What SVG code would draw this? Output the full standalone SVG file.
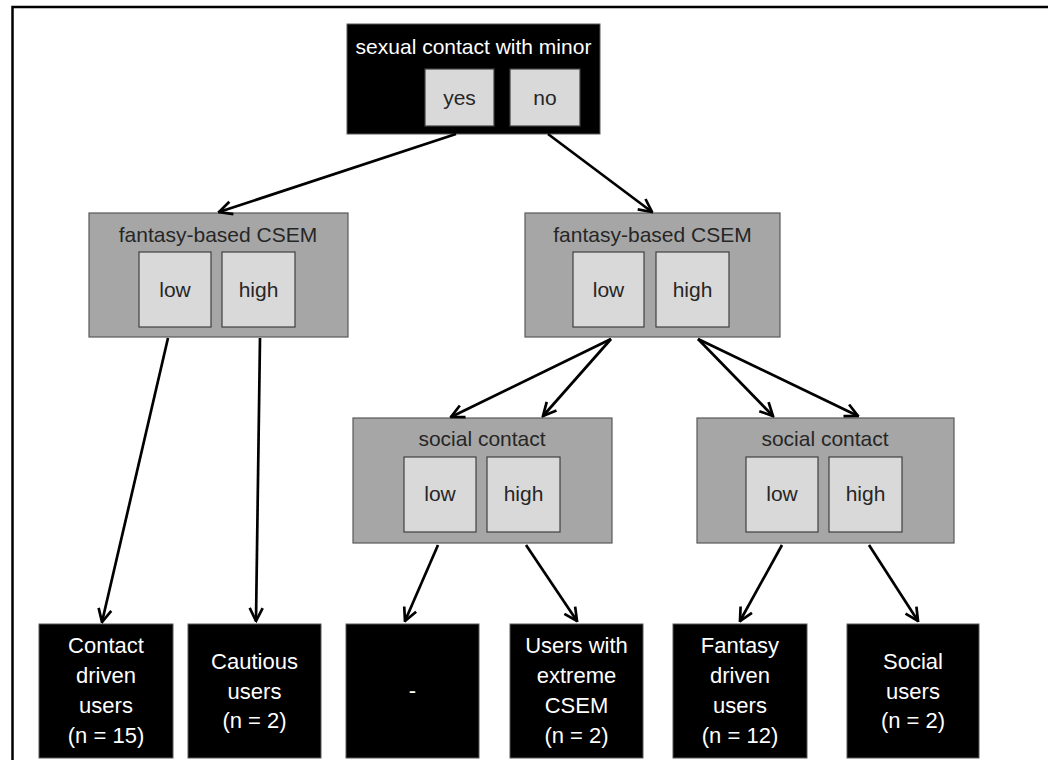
<svg xmlns="http://www.w3.org/2000/svg" width="1048" height="760" viewBox="0 0 1048 760">
  <style>
    .dark { fill: #000000; stroke: #595959; stroke-width: 1; }
    .grey { fill: #a6a6a6; stroke: #595959; stroke-width: 1.2; }
    .opt { fill: #d9d9d9; stroke: #404040; stroke-width: 1.2; }
    text { font-family: "Liberation Sans", Arial, sans-serif; text-anchor: middle; }
    .t-dark { fill: #ffffff; font-size: 21px; }
    .t-grey { fill: #262626; font-size: 21px; }
    .t-opt { fill: #262626; font-size: 21px; }
    .t-leaf { fill: #ffffff; font-size: 22px; }
    .conn { stroke: #000000; stroke-width: 2.7; fill: none; marker-end: url(#arrow); }
  </style>
  <defs>
    <marker id="arrow" viewBox="0 0 16 16" refX="14.5" refY="8" markerWidth="16" markerHeight="16" markerUnits="userSpaceOnUse" orient="auto">
      <path d="M1.5,1.5 L14.5,8 L1.5,14.5" fill="none" stroke="#000000" stroke-width="2.7"/>
    </marker>
  </defs>

  <rect width="1048" height="760" fill="#ffffff"/>
  <!-- outer frame -->
  <rect x="12.5" y="7" width="1050" height="770" fill="none" stroke="#000000" stroke-width="2.5"/>

  <!-- root decision -->
  <g id="root">
    <rect class="dark" x="347" y="24" width="253" height="110"/>
    <text class="t-dark" x="473.5" y="54">sexual contact with minor</text>
    <rect class="opt" x="425" y="69" width="69" height="57"/>
    <text class="t-opt" x="459.5" y="105">yes</text>
    <rect class="opt" x="510" y="69" width="70" height="57"/>
    <text class="t-opt" x="545" y="105">no</text>
  </g>

  <!-- fantasy-based CSEM, left branch -->
  <g id="fantasy-left">
    <rect class="grey" x="89" y="213" width="259" height="124"/>
    <text class="t-grey" x="218" y="242">fantasy-based CSEM</text>
    <rect class="opt" x="139" y="252" width="72" height="75"/>
    <text class="t-opt" x="175" y="297">low</text>
    <rect class="opt" x="222" y="252" width="73" height="75"/>
    <text class="t-opt" x="258.5" y="297">high</text>
  </g>

  <!-- fantasy-based CSEM, right branch -->
  <g id="fantasy-right">
    <rect class="grey" x="525" y="213" width="255" height="124"/>
    <text class="t-grey" x="652.5" y="242">fantasy-based CSEM</text>
    <rect class="opt" x="573" y="252" width="71" height="75"/>
    <text class="t-opt" x="608.5" y="297">low</text>
    <rect class="opt" x="656" y="252" width="73" height="75"/>
    <text class="t-opt" x="692.5" y="297">high</text>
  </g>

  <!-- social contact, left -->
  <g id="social-left">
    <rect class="grey" x="353" y="418" width="259" height="125"/>
    <text class="t-grey" x="482" y="446">social contact</text>
    <rect class="opt" x="404" y="457" width="72" height="75"/>
    <text class="t-opt" x="440" y="501">low</text>
    <rect class="opt" x="487" y="457" width="73" height="75"/>
    <text class="t-opt" x="523.5" y="501">high</text>
  </g>

  <!-- social contact, right -->
  <g id="social-right">
    <rect class="grey" x="697" y="418" width="257" height="125"/>
    <text class="t-grey" x="825" y="446">social contact</text>
    <rect class="opt" x="746" y="457" width="72" height="75"/>
    <text class="t-opt" x="782" y="501">low</text>
    <rect class="opt" x="829" y="457" width="73" height="75"/>
    <text class="t-opt" x="865.5" y="501">high</text>
  </g>

  <!-- outcome groups -->
  <g id="leaf-contact">
    <rect class="dark" x="39" y="624" width="134" height="134"/>
    <text class="t-leaf" x="106" y="653">Contact</text>
    <text class="t-leaf" x="106" y="683">driven</text>
    <text class="t-leaf" x="106" y="713">users</text>
    <text class="t-leaf" x="106" y="743">(n = 15)</text>
  </g>
  <g id="leaf-cautious">
    <rect class="dark" x="188" y="624" width="133" height="134"/>
    <text class="t-leaf" x="254.5" y="669">Cautious</text>
    <text class="t-leaf" x="254.5" y="699">users</text>
    <text class="t-leaf" x="254.5" y="728">(n = 2)</text>
  </g>
  <g id="leaf-none">
    <rect class="dark" x="346" y="624" width="133" height="134"/>
    <text class="t-leaf" x="412.5" y="698">-</text>
  </g>
  <g id="leaf-extreme">
    <rect class="dark" x="510" y="624" width="133" height="134"/>
    <text class="t-leaf" x="576.5" y="653">Users with</text>
    <text class="t-leaf" x="576.5" y="683">extreme</text>
    <text class="t-leaf" x="576.5" y="713">CSEM</text>
    <text class="t-leaf" x="576.5" y="743">(n = 2)</text>
  </g>
  <g id="leaf-fantasy">
    <rect class="dark" x="673" y="624" width="134" height="134"/>
    <text class="t-leaf" x="740" y="653">Fantasy</text>
    <text class="t-leaf" x="740" y="683">driven</text>
    <text class="t-leaf" x="740" y="713">users</text>
    <text class="t-leaf" x="740" y="743">(n = 12)</text>
  </g>
  <g id="leaf-social">
    <rect class="dark" x="847" y="624" width="132" height="134"/>
    <text class="t-leaf" x="913" y="669">Social</text>
    <text class="t-leaf" x="913" y="699">users</text>
    <text class="t-leaf" x="913" y="728">(n = 2)</text>
  </g>

  <!-- connectors -->
  <g id="connectors">
    <line class="conn" x1="456" y1="134" x2="219" y2="212"/>
    <line class="conn" x1="548" y1="134" x2="652" y2="212"/>
    <line class="conn" x1="168" y1="338" x2="102" y2="622"/>
    <line class="conn" x1="260" y1="338" x2="256" y2="621"/>
    <line class="conn" x1="611" y1="339" x2="451" y2="417"/>
    <line class="conn" x1="611" y1="339" x2="543" y2="416"/>
    <line class="conn" x1="698" y1="339" x2="773" y2="416"/>
    <line class="conn" x1="698" y1="339" x2="858" y2="416"/>
    <line class="conn" x1="438" y1="545" x2="405" y2="621"/>
    <line class="conn" x1="526" y1="545" x2="577" y2="621"/>
    <line class="conn" x1="782" y1="545" x2="740" y2="621"/>
    <line class="conn" x1="869" y1="545" x2="918" y2="621"/>
  </g>
</svg>
